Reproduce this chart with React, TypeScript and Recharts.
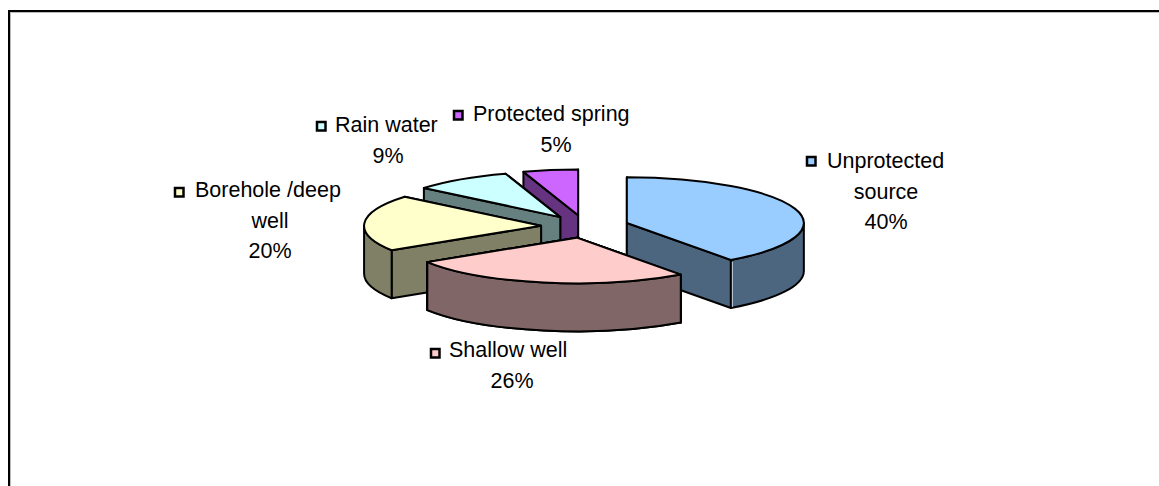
import { Pie, PieChart } from 'recharts';

const SOURCES = ['Protected spring', 'Rain water', 'Borehole /deep well', 'Shallow well', 'Unprotected source'];
const SHARES = [5, 9, 20, 26, 40];
const TOP_COLORS = ['#CC66FF', '#CCFFFF', '#FFFFCC', '#FFCCCC', '#99CCFF'];
const SIDE_COLORS = ['#663380', '#668080', '#808066', '#806666', '#4D6680'];
const LABEL_LINES = [['Protected spring', '5%'], ['Rain water', '9%'], ['Borehole /deep', 'well', '20%'], ['Shallow well', '26%'], ['Unprotected', 'source', '40%']];

const data = SOURCES.map((name, i) => ({ name, value: SHARES[i], side: SIDE_COLORS[i], fill: TOP_COLORS[i], lines: LABEL_LINES[i] }));

const WIDTH = 1159;
const HEIGHT = 486;
const CX = 585;
const CY = 226.5;
const RX = 177;
const SQUASH = 0.258;
const EXPLODE = 44;
const DEPTH = 48;
const FONT = '"Liberation Sans", Arial, sans-serif';

// where each label block sits: marker corner, first line start, centre of the other lines, baseline
const LABEL_LAYOUT = [
  { mx: 454, my: 111, tx: 473, y: 121, cx: 556 },
  { mx: 317, my: 122, tx: 335, y: 132, cx: 388 },
  { mx: 175, my: 188, tx: 195, y: 197, cx: 270 },
  { mx: 431, my: 349, tx: 449, y: 357, cx: 512 },
  { mx: 807, my: 157, tx: 827, y: 168, cx: 886 },
];

const rad = (deg: number) => (deg * Math.PI) / 180;

function Slice3D(props: any) {
  const { outerRadius: r, startAngle, endAngle, midAngle, fill, payload } = props;
  const s = Math.min(startAngle, endAngle);
  const e = Math.max(startAngle, endAngle);
  const ry = r * SQUASH;
  const mid = midAngle ?? (s + e) / 2;
  const ax = props.cx + EXPLODE * Math.cos(rad(mid));
  const ay = props.cy - EXPLODE * SQUASH * Math.sin(rad(mid));
  const px = (a: number) => ax + r * Math.cos(rad(a));
  const edge = (a: number) => ay - ry * Math.sin(rad(a));
  const arc = (from: number, to: number, dy = 0) =>
    `A${r} ${ry} 0 ${Math.abs(to - from) > 180 ? 1 : 0} ${to > from ? 0 : 1} ${px(to)} ${edge(to) + dy}`;
  const wall = (a: number) =>
    `M${ax} ${ay}L${px(a)} ${edge(a)}L${px(a)} ${edge(a) + DEPTH}L${ax} ${ay + DEPTH}Z`;

  // only the part of the rim facing the viewer (180°..360°) gets an outer wall
  const frontFrom = Math.max(s, 180);
  const frontTo = Math.min(e, 360);
  const rim =
    frontTo > frontFrom
      ? `M${px(frontFrom)} ${edge(frontFrom)}${arc(frontFrom, frontTo)}L${px(frontTo)} ${edge(frontTo) + DEPTH}${arc(frontTo, frontFrom, DEPTH)}Z`
      : null;

  const top = `M${ax} ${ay}L${px(s)} ${edge(s)}${arc(s, e)}Z`;
  // the wall further back goes down first so the nearer one hides it
  const walls = [s, e].sort((a, b) => edge(a) - edge(b));

  return (
    <g stroke="#000" strokeWidth={2} strokeLinejoin="round">
      {walls.map((a) => (
        <path key={a} d={wall(a)} fill={payload.side} />
      ))}
      {rim && <path d={rim} fill={payload.side} />}
      {payload.name === 'Unprotected source' && (
        <line x1={px(s) + 1.5} y1={edge(s) + 2} x2={px(s) + 1.5} y2={edge(s) + DEPTH - 1} stroke="#c4d0dc" strokeWidth={1} />
      )}
      <path d={top} fill={fill} />
    </g>
  );
}

function SliceLabel({ index, payload }: any) {
  const layout = LABEL_LAYOUT[index];
  const lines: string[] = payload?.lines ?? data[index].lines;
  return (
    <g fontFamily={FONT} fontSize={21.5} fill="#000">
      <rect x={layout.mx} y={layout.my} width={8.5} height={8.5} fill={TOP_COLORS[index]} stroke="#000" strokeWidth={2.5} />
      {lines.map((line, i) =>
        i === 0 ? (
          <text key={line} x={layout.tx} y={layout.y}>
            {line}
          </text>
        ) : (
          <text key={line} x={layout.cx} y={layout.y + i * 30.5} textAnchor="middle">
            {line}
          </text>
        ),
      )}
    </g>
  );
}

export default function App() {
  return (
    <div style={{ position: 'absolute', left: 0, top: 0, width: WIDTH, height: HEIGHT, background: '#fff', overflow: 'hidden' }}>
      <div
        style={{
          position: 'absolute',
          left: 8,
          top: 10,
          width: WIDTH - 8,
          height: HEIGHT - 10,
          boxSizing: 'border-box',
          borderLeft: '2px solid #000',
          borderTop: '2px solid #000',
          boxShadow: 'inset 1px 1px 0 #bbb',
        }}
      />
      <PieChart width={WIDTH} height={HEIGHT} margin={{ top: 0, right: 0, bottom: 0, left: 0 }} style={{ position: 'absolute', left: 0, top: 0 }}>
        <Pie
          data={data}
          dataKey="value"
          cx={CX}
          cy={CY}
          outerRadius={RX}
          startAngle={90}
          endAngle={450}
          paddingAngle={0}
          isAnimationActive={false}
          labelLine={false}
          label={(p: any) => <SliceLabel {...p} />}
          shape={(p: any) => <Slice3D {...p} />}
        />
        {/* the shallow well sits in front of the unprotected slice, so it is painted again on top */}
        <Pie
          data={data}
          dataKey="value"
          cx={CX}
          cy={CY}
          outerRadius={RX}
          startAngle={90}
          endAngle={450}
          isAnimationActive={false}
          label={false}
          labelLine={false}
          shape={(p: any) => (p.payload.name === 'Shallow well' ? <Slice3D {...p} /> : <g />)}
        />
      </PieChart>
    </div>
  );
}
